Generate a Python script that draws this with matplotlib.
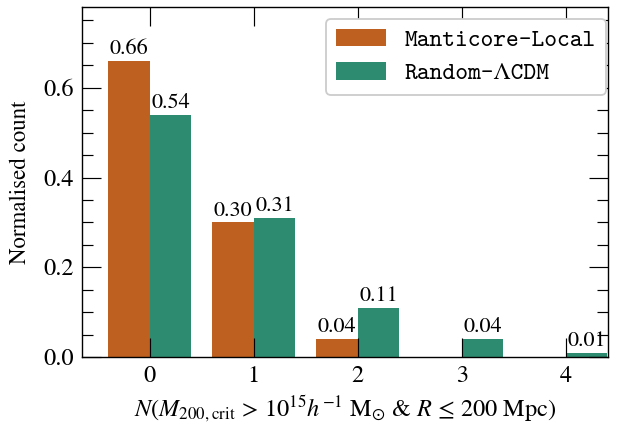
import matplotlib
matplotlib.use("Agg")
import matplotlib.pyplot as plt
import numpy as np
from matplotlib.ticker import MultipleLocator

categories = [0, 1, 2, 3, 4]
manticore_local = [0.66, 0.30, 0.04, 0.00, 0.00]
random_lcdm = [0.54, 0.31, 0.11, 0.04, 0.01]
series_names = ["Manticore-Local", "Random-\u039bCDM"]
series_colors = ["#be6120", "#2d8c6f"]

plt.rcParams["font.family"] = ["STIXGeneral", "DejaVu Serif"]
plt.rcParams["mathtext.fontset"] = "stix"

fig, ax = plt.subplots(figsize=(6.19, 4.28), dpi=100)
fig.subplots_adjust(left=0.1325, right=0.9827, top=0.9836, bottom=0.1659)

x = np.array(categories, dtype=float)
width = 0.4
bars_a = ax.bar(x - width / 2, manticore_local, width, color=series_colors[0],
                label=series_names[0], zorder=1)
bars_b = ax.bar(x + width / 2, random_lcdm, width, color=series_colors[1],
                label=series_names[1], zorder=1)

for bars, vals in ((bars_a, manticore_local), (bars_b, random_lcdm)):
    for rect, v in zip(bars, vals):
        if v > 0:
            ax.text(rect.get_x() + rect.get_width() / 2, v + 0.004, f"{v:.2f}",
                    ha="center", va="bottom", fontsize=16, zorder=3)

ax.set_xlim(-0.65, 4.41)
ax.set_ylim(0, 0.78)
ax.set_xticks(categories)
ax.yaxis.set_major_locator(MultipleLocator(0.2))
ax.yaxis.set_minor_locator(MultipleLocator(0.05))

ax.tick_params(axis="both", which="both", direction="in", top=True, right=True,
               labelsize=17.5, width=0.85, zorder=4)
ax.tick_params(axis="both", which="major", length=13.4, pad=6)
ax.tick_params(axis="both", which="minor", length=7.7)
ax.tick_params(axis="x", which="minor", bottom=False, top=False)
for sp in ax.spines.values():
    sp.set_linewidth(1.0)
    sp.set_zorder(5)

ax.set_ylabel("Normalised count", fontsize=16.5, labelpad=9)
ax.set_xlabel(r"$N(M_{200,\mathrm{crit}}\,>\,10^{15}h^{-1}\ \mathrm{M}_{\odot}$ & $R\,\leq\,200$ Mpc)",
              fontsize=17.5, labelpad=5)

leg = ax.legend(loc="upper right", bbox_to_anchor=(0.995, 0.966), borderaxespad=0,
                prop={"family": ["cmtt10", "STIXGeneral"], "size": 17.5},
                handlelength=2.05, handleheight=0.74, borderpad=0.4, labelspacing=0.42,
                handletextpad=0.78, fancybox=True, framealpha=1, edgecolor="#cccccc")
leg.get_frame().set_linewidth(1.3)
leg.set_zorder(6)

fig.savefig("out.png", dpi=100)
